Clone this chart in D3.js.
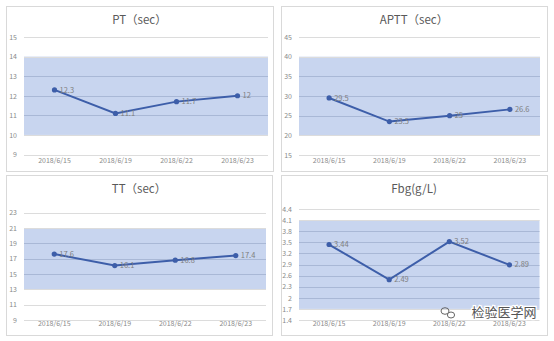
<!DOCTYPE html>
<html><head><meta charset="utf-8">
<script src="https://cdn.jsdelivr.net/npm/d3@7"></script>
<style>body{margin:0;background:#fff}svg{display:block}</style>
</head><body>
<svg id="c" width="554" height="341"></svg>
<script>
const dates = ["2018/6/15","2018/6/19","2018/6/22","2018/6/23"];
const ptValues = [12.3, 11.1, 11.7, 12];
const ptTicks = [9,10,11,12,13,14,15];
const ptRef = [10,14];
const apttValues = [29.5, 23.5, 25, 26.6];
const apttTicks = [15,20,25,30,35,40,45];
const apttRef = [20,40];
const ttValues = [17.6, 16.1, 16.8, 17.4];
const ttTicks = [9,11,13,15,17,19,21,23];
const ttRef = [13,21];
const fbgValues = [3.44, 2.49, 3.52, 2.89];
const fbgTicks = [1.4,1.7,2,2.3,2.6,2.9,3.2,3.5,3.8,4.1,4.4];
const fbgRef = [1.7,4.1];
const titles = ["PT（sec）","APTT（sec）","TT（sec）","Fbg(g/L)"];

const panels = [
  {title:titles[0], values:ptValues, ticks:ptTicks, ref:ptRef, box:[6,6,273,171], plot:[24,37,268,154.5], ty:20, xl:163},
  {title:titles[1], values:apttValues, ticks:apttTicks, ref:apttRef, box:[281,6,547,171], plot:[299,37,540,155], ty:20, xl:163},
  {title:titles[2], values:ttValues, ticks:ttTicks, ref:ttRef, box:[6,175,272,335], plot:[24,212.7,266,320], ty:189, xl:326.5},
  {title:titles[3], values:fbgValues, ticks:fbgTicks, ref:fbgRef, box:[281,175,547,335], plot:[299,209,539.5,320], ty:189, xl:326.5}
];

const svg = d3.select("#c");
const font = "'Noto Sans CJK SC','Noto Sans',sans-serif";

panels.forEach(p => {
  const g = svg.append("g");
  g.append("rect").attr("x",p.box[0]+0.5).attr("y",p.box[1]+0.5)
    .attr("width",p.box[2]-p.box[0]).attr("height",p.box[3]-p.box[1])
    .attr("fill","#fff").attr("stroke","#d9d9d9").attr("stroke-width",1);
  const [x0,y0,x1,y1] = p.plot;
  const x = d3.scaleBand().domain(dates).range([x0,x1]);
  const y = d3.scaleLinear().domain([p.ticks[0], p.ticks[p.ticks.length-1]]).range([y1,y0]);
  g.append("rect").attr("x",x0).attr("width",x1-x0)
    .attr("y",y(p.ref[1])).attr("height",y(p.ref[0])-y(p.ref[1]))
    .attr("fill","#c8d5ef");
  g.selectAll(".grid").data(p.ticks).enter().append("line")
    .attr("x1",x0).attr("x2",x1)
    .attr("y1",d=>Math.round(y(d))+0.5).attr("y2",d=>Math.round(y(d))+0.5)
    .attr("stroke",d=> (d>p.ref[0]+1e-9 && d<p.ref[1]-1e-9) ? "#a9b8d6" : "#dcdcdc")
    .attr("stroke-width",1);
  const yAxis = d3.axisLeft(y).tickValues(p.ticks).tickSize(0).tickPadding(0)
    .tickFormat(d3.format("~g"));
  const ya = g.append("g").attr("transform",`translate(${x0-7},0)`).call(yAxis);
  ya.select(".domain").remove();
  ya.selectAll("text").attr("fill","#8a8a8a").style("font-size","7px").style("font-family",font);
  const xAxis = d3.axisBottom(x).tickSize(0).tickPadding(0);
  const xa = g.append("g").attr("transform",`translate(0,${p.xl-5})`).call(xAxis);
  xa.select(".domain").remove();
  xa.selectAll("text").attr("fill","#8a8a8a").style("font-size","7px").style("font-family",font);
  g.append("text").attr("x",(p.box[0]+p.box[2])/2).attr("y",p.ty).attr("dy","0.35em")
    .attr("text-anchor","middle").attr("fill","#595959")
    .style("font-size","11.5px").style("font-family",font).text(p.title);
  const line = d3.line().x((d,i)=>x(dates[i])+x.bandwidth()/2).y(d=>y(d));
  g.append("path").datum(p.values).attr("d",line).attr("fill","none")
    .attr("stroke","#3d5ea9").attr("stroke-width",2);
  g.selectAll(".pt").data(p.values).enter().append("circle")
    .attr("cx",(d,i)=>x(dates[i])+x.bandwidth()/2).attr("cy",d=>y(d)).attr("r",2.6)
    .attr("fill","#3d5ea9");
  g.selectAll(".lbl").data(p.values).enter().append("text")
    .attr("x",(d,i)=>x(dates[i])+x.bandwidth()/2+5).attr("y",d=>y(d)).attr("dy","0.35em")
    .attr("fill","#7f7f7f").style("font-size","7.5px").style("font-family",font)
    .text(d=>d3.format("~g")(d));
});

// watermark
const wm = svg.append("g");
wm.append("text").attr("x",504).attr("y",317).attr("text-anchor","middle")
  .attr("fill","#555").attr("stroke","#fff").attr("stroke-width",2.5).attr("paint-order","stroke")
  .style("font-size","13px").style("font-family","'Noto Sans CJK SC',sans-serif").text("检验医学网");
wm.append("ellipse").attr("cx",445).attr("cy",311).attr("rx",4).attr("ry",3.3).attr("fill","none").attr("stroke","#666").attr("stroke-width",1);
wm.append("ellipse").attr("cx",451).attr("cy",315).attr("rx",3.6).attr("ry",3).attr("fill","#fff").attr("stroke","#666").attr("stroke-width",1);
</script>
</body></html>
